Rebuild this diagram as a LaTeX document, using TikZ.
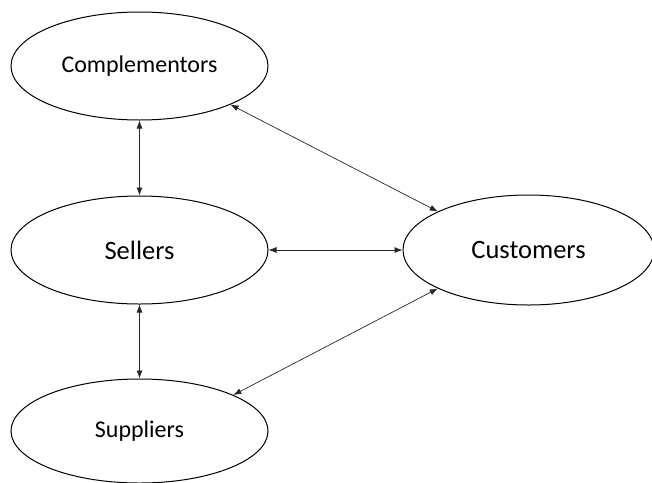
\documentclass[tikz,border=0pt]{standalone}
\usepackage{fontspec}
\setmainfont{Carlito}
\usepackage{tikz}
\usetikzlibrary{positioning,arrows.meta,shapes.geometric}

\tikzset{
    party/.style={ellipse,draw,line width=1pt,inner sep=0pt,minimum width=257pt,minimum height=108pt,font=\fontsize{24}{28}\selectfont},
    bigparty/.style={party,font=\fontsize{26.5}{30}\selectfont},
    link/.style={<->,line width=0.7pt,draw=black!85}
}

\begin{document}
\begin{tikzpicture}[x=1pt,y=-1pt,>={Latex[length=8pt,width=6pt]}]
    \useasboundingbox (0,0) rectangle (652,482);
    \node[party] (Complementors) at (139.5,66) {Complementors};
    \node[bigparty,below = 75pt of Complementors] (Sellers) {Sellers};
    \node[party,below = 74pt of Sellers,minimum height=104pt] (Suppliers) {Suppliers};
    \node[bigparty,right = 134pt of Sellers,minimum width=251pt,minimum height=110pt] (Customers) {Customers};
    %
    \draw[link] (Complementors) -- (Sellers);
    \draw[link] (Sellers) -- (Suppliers);
    \draw[link] (Sellers) -- (Customers);
    \draw[link] (Complementors.-23) -- (Customers.157);
    \draw[link] (Suppliers.21) -- (Customers.-157);
\end{tikzpicture}
\end{document}
